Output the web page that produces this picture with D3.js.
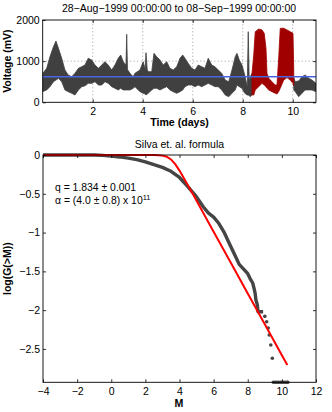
<!DOCTYPE html>
<html><head><meta charset="utf-8">
<script src="https://cdn.jsdelivr.net/npm/d3@7"></script>
<style>body{margin:0;background:#fff} text{font-family:"Liberation Sans",Arial,sans-serif;fill:#000}</style>
</head><body><svg id="c" width="332" height="412"></svg>
<script>
// ---- top panel data ----
const timeTicks=[2,4,6,8,10];
const voltTicks=[0,1000,2000];
const meanVolt=620;
const greyT =[0.00,0.16,0.29,0.43,0.53,0.63,0.76,0.89,1.02,1.16,1.29,1.43,1.56,1.69,1.82,1.96,2.09,2.23,2.36,2.49,2.62,2.76,2.89,3.02,3.12,3.22,3.33,3.36,3.39,3.49,3.62,3.69,3.89,4.02,4.10,4.13,4.18,4.22,4.36,4.45,4.56,4.69,4.82,4.96,5.09,5.22,5.36,5.49,5.60,5.69,5.82,5.96,6.09,6.22,6.36,6.49,6.62,6.76,6.89,7.02,7.16,7.30,7.44,7.57,7.70,7.77,7.86,7.97,8.08,8.18,8.22,8.26,8.30,8.37];
const greyHi=[700,826,1108,1351,1490,1312,1069,785,663,622,705,826,866,906,1069,1028,906,826,906,987,906,785,906,1069,1149,987,900,1652,800,705,622,705,785,987,800,1206,800,745,745,1190,1108,1028,906,987,826,785,866,1069,1149,1069,946,826,785,906,866,826,1069,906,866,785,705,540,500,785,1108,1190,1028,906,663,380,1716,500,620,700];
const greyLo=[260,300,380,500,540,583,500,300,258,219,177,300,380,400,460,460,500,420,420,500,460,380,340,300,340,300,300,300,300,300,340,380,258,219,200,177,200,219,300,340,340,300,340,380,300,258,219,258,300,380,420,420,380,420,380,420,460,420,380,380,300,177,137,219,300,420,380,340,219,177,177,160,137,180];
const redT =[8.37,8.44,8.50,8.64,8.77,8.86,8.93,8.97,9.04,9.17,9.30,9.37,9.44,9.50,9.64,9.77,9.90,10.01,10.04];
const redHi=[700,1149,1716,1781,1760,1676,1312,705,583,500,420,420,1100,1798,1798,1760,1716,1676,800];
const redLo=[180,177,300,380,460,420,380,340,300,258,219,200,260,340,540,600,540,460,400];
const grey2T =[10.04,10.10,10.24,10.37,10.50,10.64,10.77,10.93];
const grey2Hi=[600,500,520,620,663,583,540,460];
const grey2Lo=[300,258,137,219,300,300,300,258];

// ---- bottom panel data ----
const mTicks=[-4,-2,0,2,4,6,8,10,12];
const gTicks=[0,-0.5,-1,-1.5,-2,-2.5];
const empM=[-4,-1,-0.5,0,0.5,1,1.5,2,2.5,3,3.5,4,4.5,5,5.4,5.7,6,6.3,6.6,6.9,7.2,7.5,7.8,8.0,8.13,8.29,8.37,8.43,8.48,8.56,8.6,8.75,8.9];
const empG=[0,0,-0.005,-0.015,-0.025,-0.04,-0.06,-0.09,-0.125,-0.16,-0.21,-0.29,-0.41,-0.54,-0.67,-0.75,-0.80,-0.88,-0.99,-1.13,-1.27,-1.41,-1.48,-1.53,-1.59,-1.65,-1.72,-1.78,-1.87,-1.93,-2.02,-2.02,-2.02];
const tailM=[9.0,9.11,9.2,9.26,9.35,9.44];
const tailG=[-2.08,-2.15,-2.23,-2.32,-2.45,-2.62];
const floorM=[9.5,9.6,9.7,9.8,9.9,10.0,10.1,10.2,10.3,10.35];
const fitM=[-4,2,2.5,2.75,3,3.25,3.5,3.75,4,4.25,4.5,4.75,5,6,7,8,9,10,10.32];
const fitG=[0,0,-0.001,-0.0025,-0.008,-0.022,-0.057,-0.118,-0.201,-0.295,-0.392,-0.491,-0.590,-0.988,-1.386,-1.784,-2.182,-2.580,-2.707];

const svg=d3.select("#c");
const FS=10.5;
const zip=(a,b,c)=>a.map((t,i)=>({t:t,hi:b[i],lo:c[i]}));
const minusFmt=d=>d<0?"\u2212"+Math.abs(d):String(d);

// ---------- TOP ----------
const x1=d3.scaleLinear().domain([0,10.93]).range([42.7,316]);
const y1=d3.scaleLinear().domain([0,2000]).range([102.3,20]);
const g1=svg.append("g");
g1.append("clipPath").attr("id","cp1").append("rect").attr("x",x1(0)).attr("y",y1(2000)).attr("width",x1(10.93)-x1(0)).attr("height",y1(0)-y1(2000));
g1.selectAll("line.gx").data(timeTicks).enter().append("line").attr("x1",d=>x1(d)).attr("x2",d=>x1(d)).attr("y1",y1(0)).attr("y2",y1(2000)).attr("stroke","#777").attr("stroke-width",0.7).attr("stroke-dasharray","1,2.5");
g1.selectAll("line.gy").data([1000]).enter().append("line").attr("x1",x1(0)).attr("x2",x1(10.93)).attr("y1",d=>y1(d)).attr("y2",d=>y1(d)).attr("stroke","#777").attr("stroke-width",0.7).attr("stroke-dasharray","1,2.5");
const area1=d3.area().x(d=>x1(d.t)).y0(d=>y1(d.lo)).y1(d=>y1(d.hi));
const pc=g1.append("g").attr("clip-path","url(#cp1)");
pc.append("path").attr("d",area1(zip(greyT,greyHi,greyLo))).attr("fill","#404040").attr("stroke","#404040").attr("stroke-width",0.8);
pc.append("path").attr("d",area1(zip(grey2T,grey2Hi,grey2Lo))).attr("fill","#404040").attr("stroke","#404040").attr("stroke-width",0.8);
pc.append("path").attr("d",area1(zip(redT,redHi,redLo))).attr("fill","#a00000").attr("stroke","#a00000").attr("stroke-width",0.8);
pc.append("line").attr("x1",x1(0)).attr("x2",x1(10.93)).attr("y1",y1(meanVolt)).attr("y2",y1(meanVolt)).attr("stroke","#4a64e0").attr("stroke-width",1.6);
function styleAxis(sel){sel.select(".domain").remove();sel.selectAll("line").attr("stroke","#000").attr("stroke-width",0.8);sel.selectAll("text").style("font-size",FS+"px").attr("fill","#000").style("font-family","Liberation Sans, Arial, sans-serif");}
g1.append("g").attr("transform",`translate(0,${y1(0)})`).call(d3.axisBottom(x1).tickValues(timeTicks).tickSize(-3).tickPadding(5).tickFormat(d3.format("d"))).call(styleAxis);
g1.append("g").attr("transform",`translate(0,${y1(2000)})`).call(d3.axisTop(x1).tickValues(timeTicks).tickSize(-3).tickFormat("")).call(styleAxis);
g1.append("g").attr("transform",`translate(${x1(0)},0)`).call(d3.axisLeft(y1).tickValues(voltTicks).tickSize(-3).tickPadding(3).tickFormat(d3.format("d"))).call(styleAxis);
g1.append("g").attr("transform",`translate(${x1(10.93)},0)`).call(d3.axisRight(y1).tickValues(voltTicks).tickSize(-3).tickFormat("")).call(styleAxis);
g1.append("rect").attr("x",x1(0)).attr("y",y1(2000)).attr("width",x1(10.93)-x1(0)).attr("height",y1(0)-y1(2000)).attr("fill","none").attr("stroke","#000").attr("stroke-width",0.9);
svg.append("text").attr("x",179).attr("y",11.5).attr("text-anchor","middle").style("font-size",FS+"px").text("28\u2212Aug\u22121999 00:00:00 to 08\u2212Sep\u22121999 00:00:00");
svg.append("text").attr("x",179.5).attr("y",126).attr("text-anchor","middle").style("font-size","10.6px").style("font-weight","bold").text("Time (days)");
svg.append("text").attr("transform",`translate(10.5,${(y1(0)+y1(2000))/2}) rotate(-90)`).attr("text-anchor","middle").style("font-size","10.5px").style("font-weight","bold").text("Voltage (mV)");

// ---------- BOTTOM ----------
const x2=d3.scaleLinear().domain([-4,12]).range([43,316]);
const y2=d3.scaleLinear().domain([-2.93,0]).range([382.3,155]);
const g2=svg.append("g");
g2.append("clipPath").attr("id","cp2").append("rect").attr("x",x2(-4)-3).attr("y",y2(0)-3).attr("width",x2(12)-x2(-4)+6).attr("height",y2(-2.93)-y2(0)+6);
const pc2=g2.append("g").attr("clip-path","url(#cp2)");
const line2=d3.line().x(d=>x2(d[0])).y(d=>y2(d[1]));
pc2.append("path").attr("d",line2(empM.map((m,i)=>[m,empG[i]]))).attr("fill","none").attr("stroke","#454545").attr("stroke-width",3.4).attr("stroke-linejoin","round");
pc2.selectAll("circle.t").data(tailM.map((m,i)=>[m,tailG[i]])).enter().append("circle").attr("cx",d=>x2(d[0])).attr("cy",d=>y2(d[1])).attr("r",1.8).attr("fill","#454545");
pc2.selectAll("circle.f").data(floorM).enter().append("circle").attr("cx",d=>x2(d)).attr("cy",y2(-2.93)).attr("r",1.8).attr("fill","#454545");
pc2.append("path").attr("d",line2(fitM.map((m,i)=>[m,fitG[i]]))).attr("fill","none").attr("stroke","#ff0000").attr("stroke-width",2);
g2.append("g").attr("transform",`translate(0,${y2(-2.93)})`).call(d3.axisBottom(x2).tickValues(mTicks).tickSize(-3).tickPadding(5).tickFormat(minusFmt)).call(styleAxis);
g2.append("g").attr("transform",`translate(0,${y2(0)})`).call(d3.axisTop(x2).tickValues(mTicks).tickSize(-3).tickFormat("")).call(styleAxis);
g2.append("g").attr("transform",`translate(${x2(-4)},0)`).call(d3.axisLeft(y2).tickValues(gTicks).tickSize(-3).tickPadding(3).tickFormat(minusFmt)).call(styleAxis);
g2.append("g").attr("transform",`translate(${x2(12)},0)`).call(d3.axisRight(y2).tickValues(gTicks).tickSize(-3).tickFormat("")).call(styleAxis);
g2.append("rect").attr("x",x2(-4)).attr("y",y2(0)).attr("width",x2(12)-x2(-4)).attr("height",y2(-2.93)-y2(0)).attr("fill","none").attr("stroke","#000").attr("stroke-width",0.9);
svg.append("text").attr("x",179.5).attr("y",148).attr("text-anchor","middle").style("font-size",FS+"px").text("Silva et. al. formula");
svg.append("text").attr("x",55).attr("y",190.5).style("font-size","10.4px").text("q = 1.834 \u00b1 0.001");
const t2=svg.append("text").attr("x",55).attr("y",204).style("font-size","10.4px");
t2.append("tspan").text("\u03b1 = (4.0 \u00b1 0.8) x 10");
t2.append("tspan").attr("dy",-4).style("font-size","7.5px").text("11");
svg.append("text").attr("x",179).attr("y",406.5).attr("text-anchor","middle").style("font-size","10.6px").style("font-weight","bold").text("M");
svg.append("text").attr("transform",`translate(10.5,${(y2(0)+y2(-2.93))/2}) rotate(-90)`).attr("text-anchor","middle").style("font-size","10.5px").style("font-weight","bold").text("log(G(>M))");
</script></body></html>
